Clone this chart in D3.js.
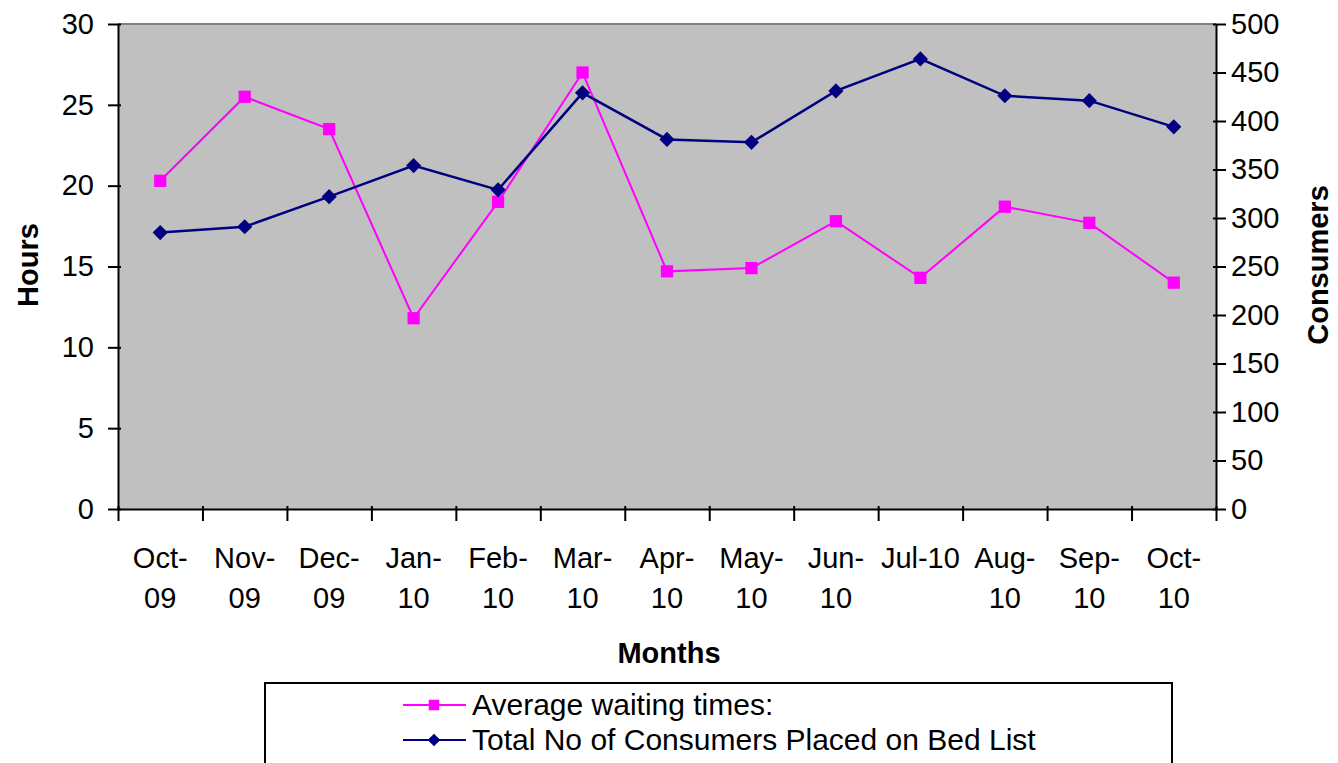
<!DOCTYPE html>
<html>
<head>
<meta charset="utf-8">
<script src="https://cdn.jsdelivr.net/npm/d3@7"></script>
<style>
  body { margin: 0; background: #fff; }
  svg { display: block; font-family: "Liberation Sans", Arial, sans-serif; }
  .axis text { font-size: 29px; fill: #000; }
  .axis path, .axis line { stroke: #000; stroke-width: 2; }
</style>
</head>
<body>
<svg width="1338" height="763"></svg>
<script>
// data
const months = ["Oct-09", "Nov-09", "Dec-09", "Jan-10", "Feb-10", "Mar-10", "Apr-10",
                "May-10", "Jun-10", "Jul-10", "Aug-10", "Sep-10", "Oct-10"];
const monthLabels = [["Oct-", "09"], ["Nov-", "09"], ["Dec-", "09"], ["Jan-", "10"], ["Feb-", "10"],
                     ["Mar-", "10"], ["Apr-", "10"], ["May-", "10"], ["Jun-", "10"], ["Jul-10"],
                     ["Aug-", "10"], ["Sep-", "10"], ["Oct-", "10"]];
const waitHours = [20.3, 25.5, 23.5, 11.8, 19.0, 27.0, 14.7, 14.9, 17.8, 14.3, 18.7, 17.7, 14.0];
const consumers = [285, 291, 322, 354, 329, 429, 381, 378, 431, 464, 426, 421, 394];
const hourTicks = [0, 5, 10, 15, 20, 25, 30];
const consumerTicks = [0, 50, 100, 150, 200, 250, 300, 350, 400, 450, 500];
const seriesNames = ["Average waiting times:", "Total No of Consumers Placed on Bed List"];

const sketch = () => {
    var svg = d3.select("svg"),
        pLeft = 118, pRight = 1216, pTop = 24, pBottom = 509;

    var x = d3.scaleBand().domain(months).range([pLeft, pRight]);
    var xEdge = d3.scaleLinear().domain([0, months.length]).range([pLeft, pRight]);
    var yH = d3.scaleLinear().domain([0, 30]).range([pBottom, pTop]);
    var yC = d3.scaleLinear().domain([0, 500]).range([pBottom, pTop]);
    var cx = d => x(d) + x.bandwidth() / 2;

    // plot area
    svg.append("rect")
        .attr("x", pLeft).attr("y", pTop)
        .attr("width", pRight - pLeft).attr("height", pBottom - pTop)
        .attr("fill", "#c0c0c0");
    svg.append("line")
        .attr("x1", pLeft).attr("x2", pRight).attr("y1", pTop).attr("y2", pTop)
        .attr("stroke", "#808080").attr("stroke-width", 2);

    // axes
    svg.append("g")
        .attr("class", "axis")
        .attr("transform", "translate(" + pLeft + ",0)")
        .call(d3.axisLeft(yH).tickValues(hourTicks).tickSize(10).tickPadding(14).tickSizeOuter(0))
        .selectAll(".tick line").attr("x1", 3);

    svg.append("g")
        .attr("class", "axis")
        .attr("transform", "translate(" + pRight + ",0)")
        .call(d3.axisRight(yC).tickValues(consumerTicks).tickSize(10).tickPadding(5).tickSizeOuter(0))
        .selectAll(".tick line").attr("x1", -3);

    var xg = svg.append("g")
        .attr("class", "axis")
        .attr("transform", "translate(0," + pBottom + ")")
        .call(d3.axisBottom(xEdge).tickValues(d3.range(months.length + 1)).tickFormat("").tickSize(12).tickSizeOuter(0));
    xg.selectAll(".tick line").attr("y1", -3);

    var lab = svg.append("g").attr("class", "axis")
        .selectAll("text")
        .data(months)
        .join("text")
        .attr("x", cx)
        .attr("text-anchor", "middle");
    lab.selectAll("tspan")
        .data((d, i) => monthLabels[i])
        .join("tspan")
        .attr("x", function() { return this.parentNode.getAttribute("x"); })
        .attr("y", (d, i) => 568 + i * 40)
        .text(d => d);

    // axis titles
    svg.append("text")
        .attr("x", 669).attr("y", 663)
        .attr("text-anchor", "middle")
        .style("font-size", "29px").style("font-weight", "bold")
        .text("Months");
    svg.append("text")
        .attr("transform", "translate(38,265) rotate(-90)")
        .attr("text-anchor", "middle")
        .style("font-size", "29px").style("font-weight", "bold")
        .text("Hours");
    svg.append("text")
        .attr("transform", "translate(1328,265) rotate(-90)")
        .attr("text-anchor", "middle")
        .style("font-size", "29px").style("font-weight", "bold")
        .text("Consumers");

    // lines
    var lineH = d3.line().x((d, i) => cx(months[i])).y(d => yH(d));
    var lineC = d3.line().x((d, i) => cx(months[i])).y(d => yC(d));

    svg.append("path")
        .attr("d", lineH(waitHours))
        .attr("fill", "none").attr("stroke", "#ff00ff").attr("stroke-width", 2);
    svg.append("path")
        .attr("d", lineC(consumers))
        .attr("fill", "none").attr("stroke", "#000080").attr("stroke-width", 2.5);

    var square = d3.symbol().type(d3.symbolSquare).size(150);
    var diamond = d3.symbol().type(d3.symbolSquare).size(115);

    svg.append("g").selectAll("path")
        .data(waitHours)
        .join("path")
        .attr("transform", (d, i) => "translate(" + cx(months[i]) + "," + yH(d) + ")")
        .attr("d", square)
        .attr("fill", "#ff00ff");

    svg.append("g").selectAll("path")
        .data(consumers)
        .join("path")
        .attr("transform", (d, i) => "translate(" + cx(months[i]) + "," + yC(d) + ") rotate(45)")
        .attr("d", diamond)
        .attr("fill", "#000080");

    // legend
    var legend = svg.append("g");
    legend.append("rect")
        .attr("x", 265).attr("y", 683)
        .attr("width", 907).attr("height", 120)
        .attr("fill", "#fff").attr("stroke", "#000").attr("stroke-width", 2);

    var colors = ["#ff00ff", "#000080"];
    var symbols = [square, diamond];
    var row = legend.selectAll("g.row")
        .data(seriesNames)
        .join("g")
        .attr("class", "row")
        .attr("transform", (d, i) => "translate(0," + (705 + i * 35) + ")");
    row.append("line")
        .attr("x1", 403).attr("x2", 466)
        .attr("stroke", (d, i) => colors[i]).attr("stroke-width", 2);
    row.append("path")
        .attr("transform", (d, i) => "translate(434,0)" + (i ? " rotate(45)" : ""))
        .attr("d", (d, i) => symbols[i].size(i ? 80 : 110)())
        .attr("fill", (d, i) => colors[i]);
    row.append("text")
        .attr("x", 472).attr("y", 10)
        .style("font-size", "30px")
        .text(d => d);
};

sketch();
</script>
</body>
</html>
